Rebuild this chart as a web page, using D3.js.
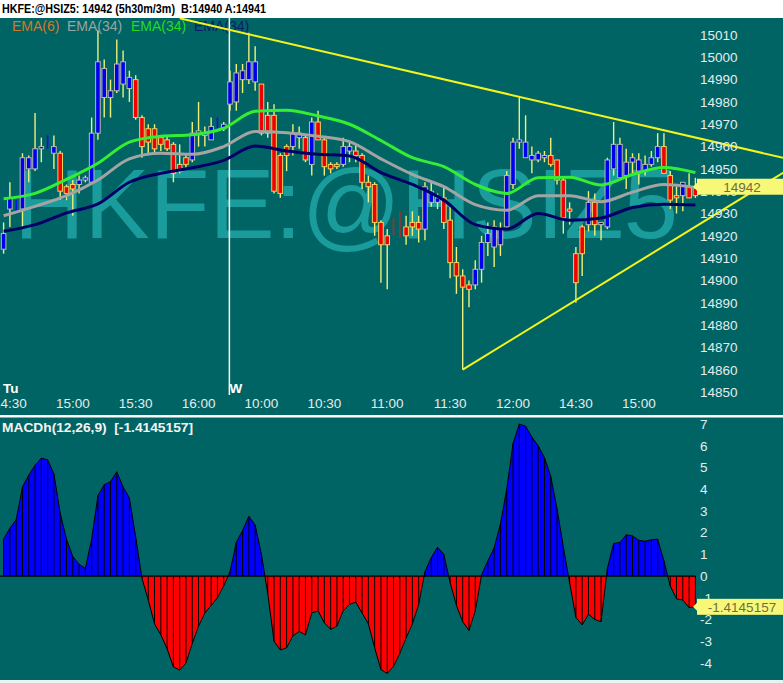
<!DOCTYPE html>
<html><head><meta charset="utf-8">
<script src="https://cdn.jsdelivr.net/npm/d3@7"></script>
<style>
html,body{margin:0;padding:0;background:#006464;}
svg{display:block;}
text{font-family:"Liberation Sans",Arial,sans-serif;white-space:pre;}
</style></head>
<body>
<svg id="chart" width="783" height="683"></svg>
<script>
// ---------------- DATA ----------------
const headerText = "HKFE:@HSIZ5: 14942 (5h30m/3m)  B:14940 A:14941";
const watermark = "HKFE:@HSIZ5";
const lastPrice = 14942;
const lastMacd = -1.4145157;
const macdTitle = "MACDh(12,26,9)  [-1.4145157]";

const opens  = [14914,14932,14930,14932,14950,14950,14959,14959,14957,14957,
                14942,14943,14943,14945,14944,14966,14982,14982,14985,14988,
                14986,14990,14973,14968,14968,14964,14963,14961,14952,14955,
                14954,14966,14965,14963,14968,14968,14979,14980,14990,14990,
                14989,14988,14974,14974,14956,14960,14960,14964,14964,14952,
                14971,14963,14952,14952,14952,14958,14958,14956,14944,14943,
                14926,14920,14928,14931,14924,14926,14926,14923,14935,14935,
                14937,14927,14908,14902,14898,14898,14905,14917,14915,14916,
                14924,14943,14962,14955,14954,14954,14955,14956,14954,14945,
                14932,14912,14924,14925,14935,14925,14924,14950,14946,14947,
                14953,14949,14949,14952,14955,14960,14947,14938,14938,14942,
                14942];
const highs  = [14926,14944,14936,14957,14956,14975,14964,14965,14965,14958,
                14943,14945,14947,14947,14973,15012,14999,14990,15008,15003,
                14994,14992,14974,14970,14970,14965,14965,14962,14961,14957,
                14971,14980,14969,14973,14973,14971,14994,14997,14997,15011,
                15005,14988,14980,14979,14957,14961,14970,14969,14965,14973,
                14976,14964,14953,14953,14964,14962,14961,14957,14947,14944,
                14927,14923,14928,14931,14929,14931,14929,14944,14944,14939,
                14942,14933,14915,14905,14900,14909,14920,14926,14927,14926,
                14949,14964,14982,14974,14960,14958,14958,14964,14954,14946,
                14935,14915,14925,14940,14939,14926,14955,14971,14964,14959,
                14957,14957,14956,14958,14966,14966,14949,14942,14944,14948,
                14946];
const lows   = [14912,14924,14930,14924,14944,14949,14953,14959,14950,14936,
                14936,14929,14939,14944,14943,14963,14973,14973,14984,14982,
                14980,14972,14955,14957,14957,14958,14958,14944,14948,14950,
                14953,14960,14960,14963,14968,14967,14976,14976,14984,14988,
                14985,14965,14964,14939,14937,14949,14956,14959,14953,14947,
                14963,14947,14948,14950,14951,14953,14953,14941,14935,14920,
                14899,14896,14920,14919,14916,14920,14917,14918,14933,14932,
                14923,14901,14894,14860,14888,14896,14899,14911,14906,14911,
                14923,14941,14959,14955,14948,14953,14953,14951,14943,14921,
                14925,14890,14902,14922,14920,14918,14923,14947,14945,14941,
                14948,14943,14947,14951,14953,14948,14932,14930,14931,14937,
                14937];
const closes = [14921,14937,14936,14955,14955,14959,14960,14965,14960,14940,
                14939,14941,14945,14946,14966,14998,14995,14985,14997,14998,
                14991,14973,14960,14962,14959,14961,14959,14948,14949,14952,
                14966,14967,14966,14969,14973,14970,14989,14993,14994,14998,
                14998,14966,14966,14940,14939,14956,14966,14966,14954,14971,
                14963,14951,14950,14951,14960,14960,14956,14944,14942,14926,
                14916,14916,14920,14919,14920,14924,14923,14942,14940,14937,
                14926,14908,14902,14897,14896,14905,14917,14921,14924,14923,
                14947,14962,14963,14962,14956,14957,14956,14952,14945,14928,
                14931,14899,14912,14935,14925,14926,14954,14961,14961,14953,
                14955,14954,14952,14955,14960,14948,14936,14937,14944,14937,
                14938];
// bars drawn as thin marks (no wick)
const thinBars = [2,7,34,62,63];

// EMA lines sampled every 5 bars
const emaIdx   = [0,5,10,15,20,25,30,35,40,45,50,55,60,65,70,75,80,85,90,95,100,105,110];
const emaGreen = [14936.6,14939,14945.3,14952.5,14962,14964.6,14965.3,14968.2,14975.8,14976.3,14973.7,14970,14962.7,14955,14951,14943,14939,14946,14946.3,14942.8,14947.5,14950.6,14948.3];
const emaGray  = [14929,14933.2,14938,14945,14954.5,14957,14956.5,14960,14966.8,14966.2,14964.6,14962.2,14954.5,14947.5,14942,14934,14931.5,14938,14938,14935.3,14939.6,14943,14941.7];
const emaNavy  = [14922,14925,14930.3,14934.3,14944,14948,14950.5,14953.8,14960.2,14958,14956.6,14955.8,14948.3,14943,14936,14925,14923,14930,14927,14928,14932.7,14934.2,14933.8];

// MACD histogram per bar
const macd = [1.7,2.2,2.6,4.1,4.65,5.1,5.43,5.35,4.7,2.9,
  1.7,0.9,0.55,0.35,1.7,3.7,4.2,4.35,4.8,4.1,
  3.6,1.8,-0.1,-1.1,-2.2,-2.7,-3.35,-4.18,-4.33,-4.0,
  -3.1,-2.3,-1.7,-1.35,-1.0,-0.45,0.2,1.55,2.1,2.75,
  2.35,1.0,-0.8,-3.0,-3.4,-3.3,-2.75,-2.55,-2.7,-1.7,
  -1.6,-2.15,-2.45,-2.3,-1.6,-1.3,-1.2,-1.7,-2.2,-3.3,
  -4.3,-4.48,-4.15,-3.56,-2.85,-2.2,-1.3,0.2,0.85,1.33,
  1.0,-0.3,-1.35,-2.1,-2.5,-1.6,0.05,0.7,1.3,2.4,
  4.0,6.1,7.0,6.9,6.4,6.0,5.45,4.6,3.1,1.35,
  -0.3,-1.9,-2.25,-1.75,-2.0,-2.1,0.35,1.5,1.55,1.9,
  1.85,1.65,1.6,1.67,1.7,0.7,-0.45,-1.05,-1.1,-1.45,
  -1.4145157];

// time axis
const tickIdx = [1,11,21,31,41,51,61,71,81,91,101];
const tickLbl = ["14:30","15:00","15:30","16:00","10:00","10:30","11:00","11:30","12:00","14:30","15:00"];
const dayIdx = [0,36];
const dayLbl = ["Tu","W"];
const sessionBreak = 35.9;

const priceTicks = [15010,15000,14990,14980,14970,14960,14950,14940,14930,14920,14910,14900,14890,14880,14870,14860,14850];
const macdTicks = [7,6,5,4,3,2,1,0,-1,-2,-3,-4];

// trendlines (bar index, price)
const trendUpper = [[28,15017.5],[124.5,14954.6]];
const trendLower = [[73,14860],[124.5,14949.2]];

const legendLbl = ["EMA(6)","EMA(34)","EMA(34)","EMA(34)"];
const legendCol = ["#d07a2a","#98a4a4","#22dd22","#0a1a6a"];

// ---------------- DRAW ----------------
const W = 783, H = 683;
const svg = d3.select("#chart");
const bg = "#006464";
svg.append("rect").attr("width",W).attr("height",H).attr("fill",bg);

const x = d3.scaleLinear().domain([0,110]).range([3.6, 3.6 + 110*6.289]);
const y = d3.scaleLinear().domain([14850,15010]).range([392,35]);
const ym = d3.scaleLinear().domain([-4,7]).range([663,424]);

const defs = svg.append("defs");
defs.append("clipPath").attr("id","mainClip").append("rect").attr("x",0).attr("y",18).attr("width",W).attr("height",396);
defs.append("clipPath").attr("id","posClip").append("rect").attr("x",0).attr("y",418).attr("width",W).attr("height",ym(0)-418);
defs.append("clipPath").attr("id","negClip").append("rect").attr("x",0).attr("y",ym(0)).attr("width",W).attr("height",680-ym(0));

// header
svg.append("rect").attr("x",0).attr("y",0).attr("width",W).attr("height",18).attr("fill","#ffffff");
svg.append("text").attr("x",2).attr("y",13).attr("font-size",12).attr("font-weight","bold")
  .attr("fill","#000").attr("textLength",264).attr("lengthAdjust","spacingAndGlyphs").text(headerText);

const main = svg.append("g").attr("clip-path","url(#mainClip)");

// watermark
main.append("text").attr("x",14).attr("y",238).attr("font-size",98)
  .attr("fill","#1a9c9c").attr("textLength",664).attr("lengthAdjust","spacingAndGlyphs").text(watermark);

// legend
let lx = [12,67,131,194];
legendLbl.forEach((t,k)=>{
  main.append("text").attr("x",lx[k]).attr("y",31).attr("font-size",14).attr("fill",legendCol[k]).text(t);
});

// session separator
main.append("line").attr("x1",x(sessionBreak)).attr("x2",x(sessionBreak)).attr("y1",18).attr("y2",395)
  .attr("stroke","#ffffff").attr("stroke-width",1.5);

// candles
const bars = d3.range(opens.length).map(i=>({i,o:opens[i],h:highs[i],l:lows[i],c:closes[i],thin:thinBars.includes(i)}));
const cg = main.append("g");
bars.forEach(b=>{
  const up = b.c >= b.o;
  const cx = x(b.i);
  if (b.thin){
    cg.append("line").attr("x1",cx).attr("x2",cx).attr("y1",y(b.o)).attr("y2",y(b.c))
      .attr("stroke", up ? "#1010ee" : "#c82020").attr("stroke-width",1.6);
    return;
  }
  cg.append("line").attr("x1",cx).attr("x2",cx).attr("y1",y(b.h)).attr("y2",y(b.l))
    .attr("stroke","#eef07a").attr("stroke-width",1.4);
  const top = y(Math.max(b.o,b.c)), bot = y(Math.min(b.o,b.c));
  cg.append("rect").attr("x",cx-2.3).attr("width",4.6).attr("y",top).attr("height",Math.max(1.5,bot-top))
    .attr("fill", up ? "#0000f0" : "#f00000")
    .attr("stroke", up ? "#b8bcb0" : "#f2d060").attr("stroke-width",1);
});

// EMA lines
const emaLine = arr => d3.line().x((d,k)=>x(emaIdx[k])).y(d=>y(d)).curve(d3.curveMonotoneX)(arr);
[[emaNavy,"#000066"],[emaGray,"#a4a4a4"],[emaGreen,"#33ee33"]].forEach(([arr,col])=>{
  main.append("path").attr("d",emaLine(arr)).attr("fill","none").attr("stroke",col).attr("stroke-width",3);
});

// trendlines
[trendUpper,trendLower].forEach(t=>{
  main.append("line").attr("x1",x(t[0][0])).attr("y1",y(t[0][1])).attr("x2",x(t[1][0])).attr("y2",y(t[1][1]))
    .attr("stroke","#f4f41c").attr("stroke-width",2);
});

// price axis labels
priceTicks.forEach(p=>{
  svg.append("text").attr("x",700).attr("y",y(p)).attr("dy","0.36em").attr("font-size",13.5)
    .attr("fill","#e4ecec").text(p);
});

// price label box
const py = y(lastPrice);
svg.append("path").attr("d",`M693,${py} L698,${py-5} L698,${py+5} Z`).attr("fill","#f8f878");
svg.append("rect").attr("x",697).attr("y",py-8).attr("width",86).attr("height",16).attr("fill","#f8f878");
svg.append("text").attr("x",742).attr("y",py).attr("dy","0.36em").attr("text-anchor","middle")
  .attr("font-size",13.5).attr("fill","#6e6e44").text(lastPrice);

// time axis labels
tickIdx.forEach((ti,k)=>{
  svg.append("text").attr("x",x(ti)).attr("y",408).attr("text-anchor","middle").attr("font-size",13.5)
    .attr("fill","#e4ecec").text(tickLbl[k]);
});
dayIdx.forEach((di,k)=>{
  svg.append("text").attr("x",x(di)-0.6).attr("y",393).attr("font-size",13.5).attr("font-weight","bold")
    .attr("fill","#ffffff").text(dayLbl[k]);
});

// panel separators
svg.append("rect").attr("x",0).attr("y",415).attr("width",W).attr("height",2.5).attr("fill","#ffffff");
svg.append("rect").attr("x",0).attr("y",680).attr("width",W).attr("height",3).attr("fill","#e8f4f4");

// MACD
svg.append("text").attr("x",2).attr("y",432).attr("font-size",13.5).attr("font-weight","bold")
  .attr("fill","#f4f4f4").attr("textLength",191).attr("lengthAdjust","spacingAndGlyphs").text(macdTitle);

const area = d3.area().x((d,i)=>x(i)).y0(ym(0)).y1(d=>ym(d));
svg.append("path").attr("d",area(macd)).attr("fill","#0000ff").attr("clip-path","url(#posClip)");
svg.append("path").attr("d",area(macd)).attr("fill","#ff0000").attr("clip-path","url(#negClip)");
const hg = svg.append("g");
macd.forEach((v,i)=>{
  hg.append("line").attr("x1",x(i)).attr("x2",x(i)).attr("y1",ym(0)).attr("y2",ym(v))
    .attr("stroke","#000").attr("stroke-width",1);
});
svg.append("path").attr("d",d3.line().x((d,i)=>x(i)).y(d=>ym(d))(macd))
  .attr("fill","none").attr("stroke","#000").attr("stroke-width",1);
svg.append("line").attr("x1",0).attr("x2",x(macd.length-1)).attr("y1",ym(0)).attr("y2",ym(0))
  .attr("stroke","#000").attr("stroke-width",1.2);

macdTicks.forEach(v=>{
  svg.append("text").attr("x",700).attr("y",ym(v)).attr("dy","0.36em").attr("font-size",13.5)
    .attr("fill","#e4ecec").text(v);
});
const my = ym(lastMacd);
svg.append("path").attr("d",`M693,${my} L698,${my-5} L698,${my+5} Z`).attr("fill","#f8f878");
svg.append("rect").attr("x",697).attr("y",my-8).attr("width",86).attr("height",16).attr("fill","#f8f878");
svg.append("text").attr("x",742).attr("y",my).attr("dy","0.36em").attr("text-anchor","middle")
  .attr("font-size",13.5).attr("fill","#6e6e44").text(lastMacd);
</script>
</body></html>
